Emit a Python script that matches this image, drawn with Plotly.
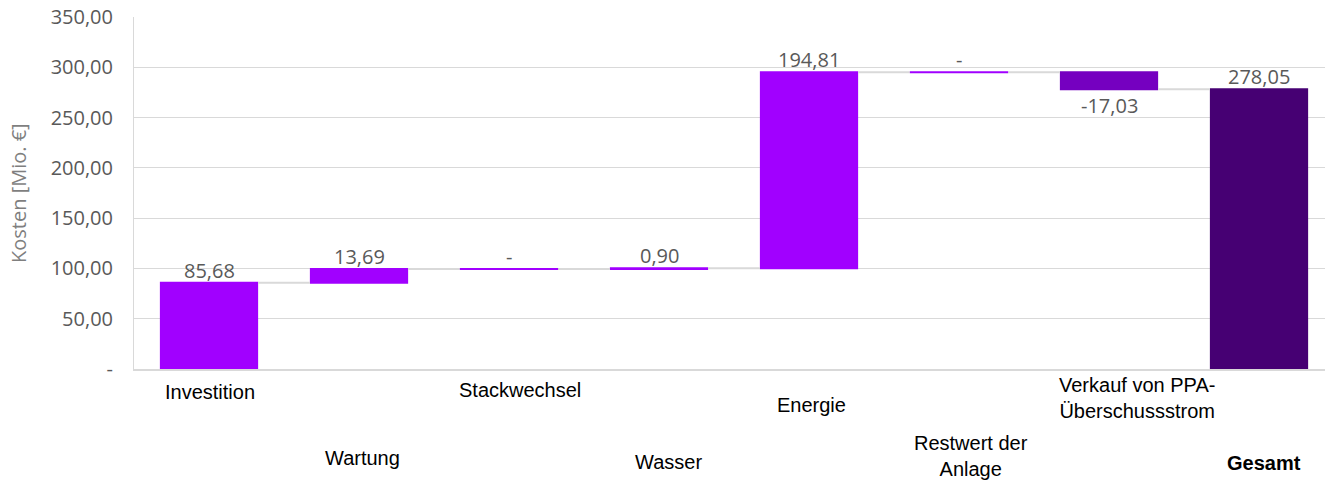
import plotly.graph_objects as go

# Kostenbestandteile (Mio. €)
categories = ["Investition", "Wartung", "Stackwechsel", "Wasser", "Energie",
              "Restwert der Anlage", "Verkauf von PPA-Überschussstrom", "Gesamt"]
axis_labels = ["Investition", "Wartung", "Stackwechsel", "Wasser", "Energie",
               "Restwert der<br>Anlage", "Verkauf von PPA-<br>Überschussstrom", "<b>Gesamt</b>"]
values = [85.68, 13.69, 0.0, 0.90, 194.81, 0.0, -17.03, 278.05]
measures = ["relative"] * 7 + ["total"]
y_ticks = [0, 50, 100, 150, 200, 250, 300, 350]


def de_fmt(v):
    if v == 0:
        return "-"
    return f"{v:,.2f}".replace(",", "X").replace(".", ",").replace("X", ".")


C_UP, C_DOWN, C_TOTAL = "#A100FF", "#7500C0", "#460073"
GRID = "#D9D9D9"
TXT = "#595959"
BAR_W = 0.655

fig = go.Figure()
fig.add_trace(go.Waterfall(
    x=categories, y=values, measure=measures,
    increasing=dict(marker=dict(color=C_UP)),
    decreasing=dict(marker=dict(color=C_DOWN)),
    totals=dict(marker=dict(color=C_TOTAL)),
    connector=dict(line=dict(color=GRID, width=2)),
    showlegend=False, hoverinfo="skip",
))

# running levels for label placement and zero-value markers
levels = []
run = 0.0
for v, m in zip(values, measures):
    if m == "total":
        levels.append((0.0, v))
        run = v
    else:
        levels.append((run, run + v))
        run += v

half = BAR_W / 2
annotations = []
for i, (cat, v, (a, b)) in enumerate(zip(categories, values, levels)):
    if v == 0:
        fig.add_trace(go.Scatter(x=[i - half, i + half], y=[a, a], mode="lines",
                                 line=dict(color=C_UP, width=2),
                                 xaxis="x2", showlegend=False, hoverinfo="skip"))
    top, bot = max(a, b), min(a, b)
    if v < 0:
        annotations.append(dict(x=cat, y=bot, xref="x", yref="y", text=de_fmt(v),
                                showarrow=False, yanchor="top", yshift=-1,
                                font=dict(family="Open Sans", size=20, color=TXT)))
    else:
        annotations.append(dict(x=cat, y=top, xref="x", yref="y", text=de_fmt(v),
                                showarrow=False, yanchor="bottom", yshift=-3,
                                font=dict(family="Open Sans", size=20, color=TXT)))

# staggered category labels below the axis
label_dx = [1, 3, 11, 9, 2, 12, 28, 5]
label_dy = [23, 89, 21, 93, 36, 87, 29, 94]
for i, (lab, dx, dy) in enumerate(zip(axis_labels, label_dx, label_dy)):
    annotations.append(dict(x=categories[i], y=0, xref="x", yref="paper", text=lab,
                            showarrow=False, xanchor="center", yanchor="middle",
                            xshift=dx, yshift=-dy,
                            font=dict(family="Liberation Sans", size=20, color="#000000")))

annotations.append(dict(x=0, y=0.5, xref="paper", yref="paper", text="Kosten [Mio. €]",
                        showarrow=False, textangle=-90, xanchor="center", yanchor="middle",
                        xshift=-116, font=dict(family="Open Sans", size=20, color="#7F7F7F")))

xr = [-0.5, 7.44]
fig.update_layout(
    width=1325, height=481,
    margin=dict(l=134, r=0, t=17, b=112),
    paper_bgcolor="white", plot_bgcolor="white",
    waterfallgap=1 - BAR_W,
    xaxis=dict(range=xr, showticklabels=False, showgrid=False, showline=True,
               linecolor=GRID, linewidth=2, ticks="", zeroline=False),
    xaxis2=dict(range=xr, overlaying="x", visible=False),
    yaxis=dict(range=[0, 350], tickvals=y_ticks, ticktext=[de_fmt(t) for t in y_ticks],
               showgrid=True, gridcolor=GRID, gridwidth=1, zeroline=False,
               showline=True, linecolor=GRID, linewidth=1, ticks="",
               ticklabelstandoff=16,
               tickfont=dict(family="Open Sans", size=20, color=TXT)),
    annotations=annotations,
)

fig.write_html("out.html")
